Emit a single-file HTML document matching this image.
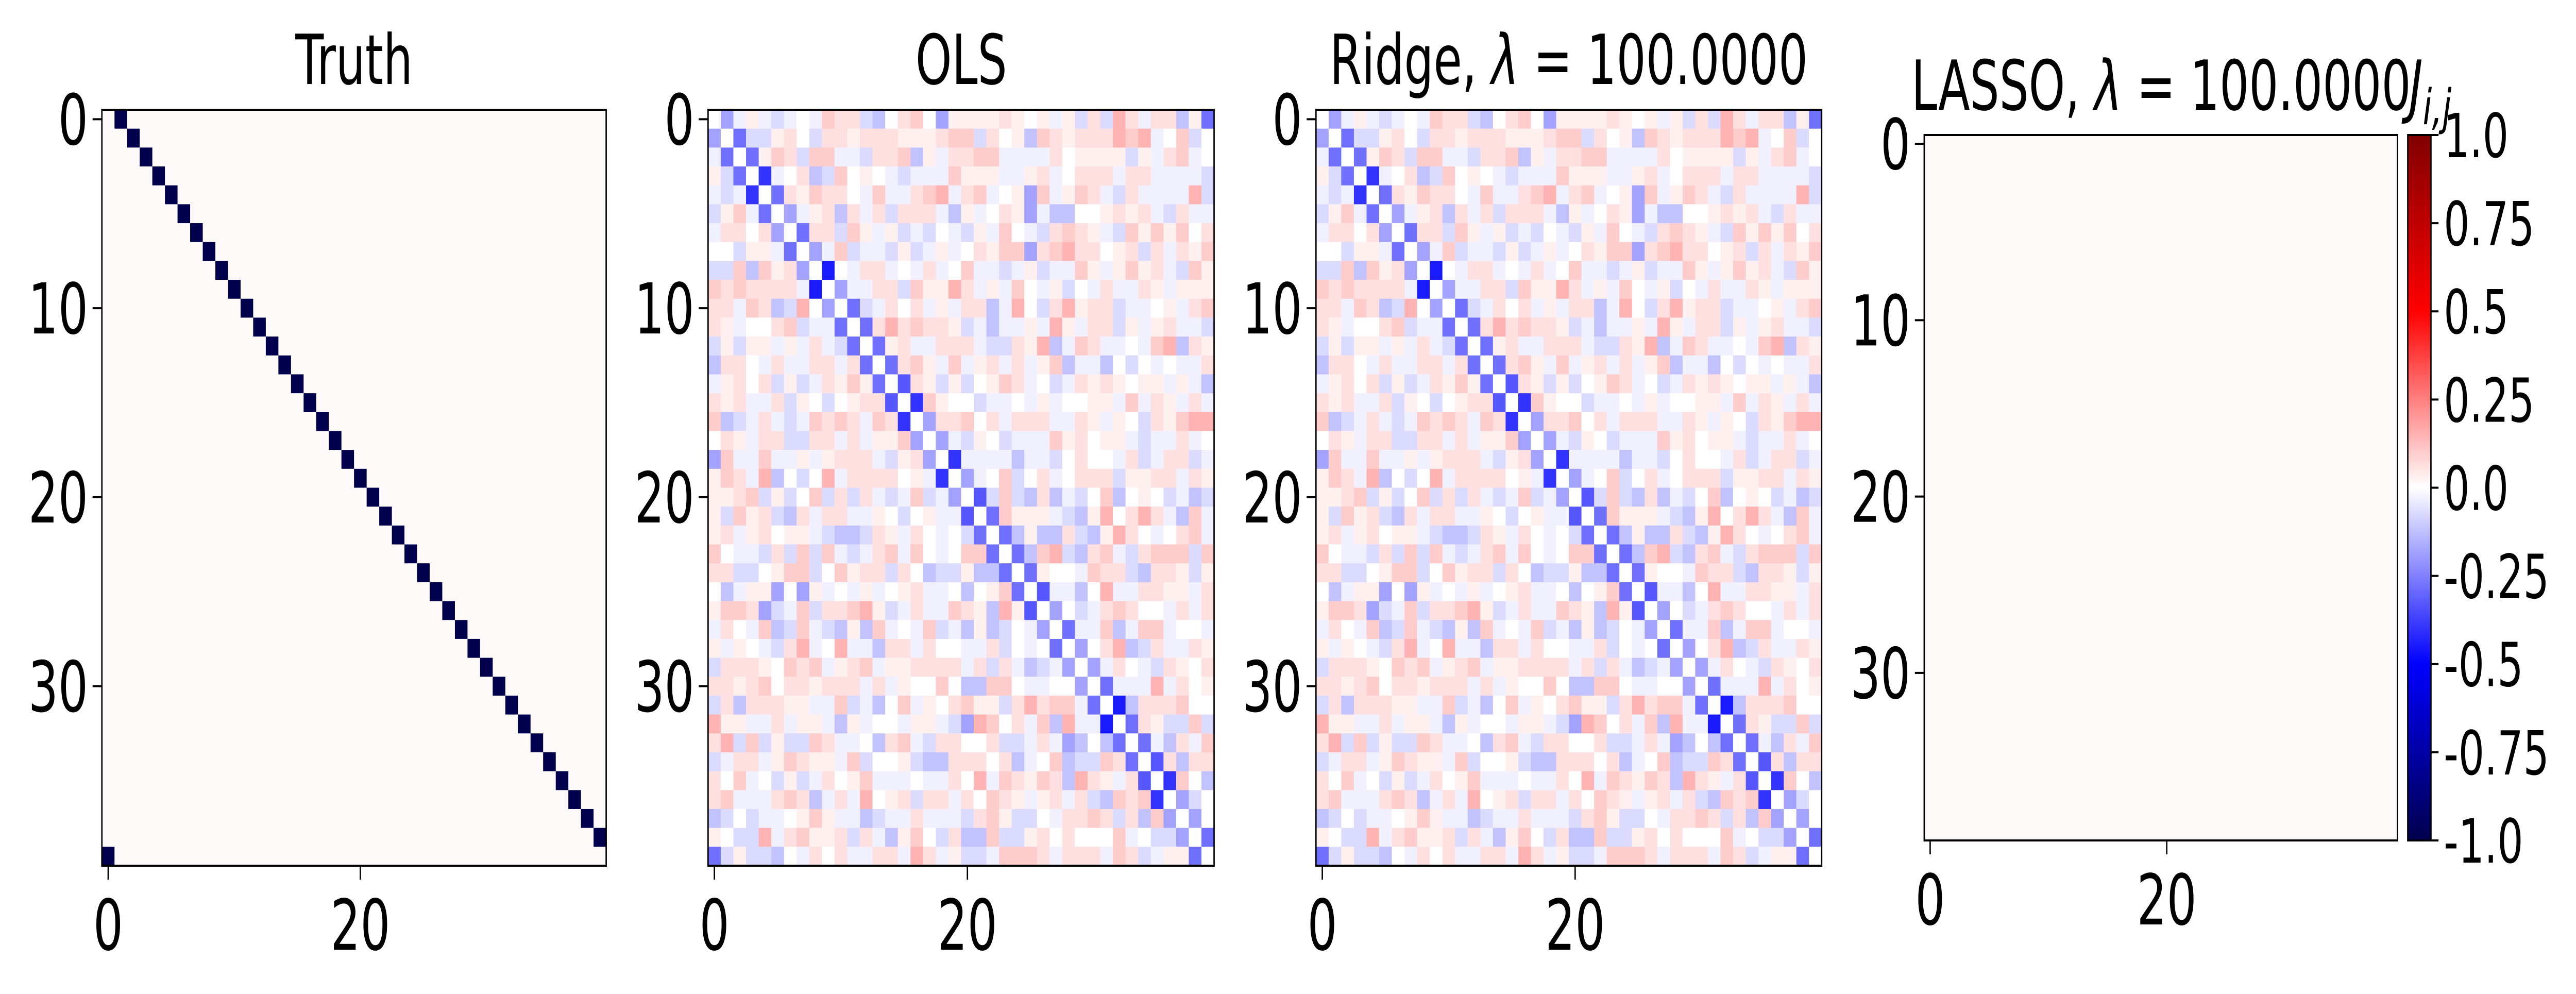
<!DOCTYPE html>
<html><head><meta charset="utf-8"><title>Coupling matrices</title>
<style>
html,body{margin:0;padding:0;background:#fff;width:100%;height:100%;overflow:hidden;}
svg{display:block;width:100vw;height:100vh;font-family:"DejaVu Sans","Liberation Sans",sans-serif;}
</style></head>
<body>
<svg id="fig" xmlns="http://www.w3.org/2000/svg" viewBox="0 0 7458 1929" preserveAspectRatio="none">
<rect x="0" y="0" width="7458" height="1929" fill="#ffffff"/>
<defs>
<linearGradient id="seis" x1="0" y1="0" x2="0" y2="1">
<stop offset="0" stop-color="#800000"/><stop offset="0.25" stop-color="#ff0000"/>
<stop offset="0.5" stop-color="#ffffff"/><stop offset="0.75" stop-color="#0000ff"/>
<stop offset="1" stop-color="#00004d"/>
</linearGradient>
</defs>
<text x="1025" y="163" font-size="134" text-anchor="middle">Truth</text>
<text x="2783" y="163" font-size="134" text-anchor="middle">OLS</text>
<text x="4542" y="163" font-size="134" text-anchor="middle">Ridge, <tspan font-style="italic">λ</tspan> = 100.0000</text>
<text x="6257" y="213" font-size="134" text-anchor="middle">LASSO, <tspan font-style="italic">λ</tspan> = 100.0000</text>
<text x="6975" y="213" font-size="134"><tspan font-style="italic">J</tspan><tspan font-style="italic" font-size="95" dy="28">i,j</tspan></text>
<g id="plots"></g>
</svg>
<script>
// ---- data ----
const INDICES = [0,1,2,3,4,5,6,7,8,9,10,11,12,13,14,15,16,17,18,19,20,21,22,23,24,25,26,27,28,29,30,31,32,33,34,35,36,37,38,39];
const TRUTH_NEG_COL = [1,2,3,4,5,6,7,8,9,10,11,12,13,14,15,16,17,18,19,20,21,22,23,24,25,26,27,28,29,30,31,32,33,34,35,36,37,38,39,0];
const TRUTH_NEG_VALUE = -1.0;
const BACKGROUND_VALUE = 0.01;
const LEVEL_CHARS = ['.','0','1','2','3','4','a','b','c','d','e','f','g','h'];
const LEVEL_VALUES = [0.01,0,0.03,0.06,0.10,0.15,-0.03,-0.07,-0.12,-0.18,-0.28,-0.33,-0.40,-0.45];
const OLS_ROWS = [
"0da1aba0a3 22bc0230d1 1112101a1b 2b42a22c1e",
"d0ebb120b2 2122211123 3b201c3212 22434a03b0",
"ae0e132b33 aab223c1a2 233aaaa201 111b1a23a0",
"1be0ga02cb 3010abaaa3 111aa12a02 22a22aaaab",
"abag0e2132 20a3aa234a 23a01d3a13 2ab2aaaa4b",
"b13ae0da12 c2a2b222ac 1a021dacc0 01212ab2aa",
"a2202d0e22 b31a1bab0a b1a30ab232 1ab3131302",
"00b11ae0da 3baab1ba1a 02133d2342 2012b2a213",
"bb3c312d0h 0a22a0a2a0 3aaba1baa3 1a1312ab31",
"3232222ah0 daa22b3114 2a1a30a1b0 a2aa21a111",
"22a32cb40d 0eba202a1a 22ca40b241 22baa01a23",
"21a0023baa e0e2423221 bacaa1a41a 22b1a12aab",
"b1b11a1a2a be0e12aa22 2abb214ca3 2aa0a34c21",
"c220a2aa22 a2e0e231a3 a12a2a13ca ac0b0a0aa2",
"a1202b1ba2 131e0f21b1 b0132a0ba2 121011a1ac",
"212aa2b10b 0122f0g310 0baa0a1a00 11a3a21a2a",
"3cba2aba32 32a32g0d22 302a222aa2 1a10b21344",
"021a22bb22 a2a113d0da b10baaa312 011abaa2a0",
"d3aa3aa1a1 222ab12d0g aaaacaab02 00a2ba22ba",
"132a4c0b04 a222201ag0 da03b02a02 22b1122a21",
"1123b1b03b 2b2aba3bad 0fb3bc2cab 03c010bacb",
"1b312bc2a2 2aa10b01aa f0e3111abc 140242ac3a",
"12a12011ab ccb21a20a0 be0ec1cc2b c1420a023a",
"30aab2b3b3 aba23a30a0 33e0ec34bc 23ab2333b3",
"22bb0133b0 3122b20cbb 1cce0e100a 322bc221b1",
"0ca11d0d1a 0a1a012aa0 c013e0faac 04aa2211a2",
"1332dba3b2 2341ba2aa3 21c41f0d0b a23200a2a2",
"a20a3cb3ab c1c3a0a3ba c1cb0ad0ea a3ca33a00a",
"1a10ab24a0 4aac22a200 aa2b0a0e0d 024cb2aa21",
"b22210323a 123a112222 a2b2acbad0 da20ab2102",
"2212302212 22a2a10030 cc330aa00d 0eaaa4a201",
"b2c22211aa 3bac03a102 311b24233a e0hc222300",
"411aa2a11a c1a00a11ab d4302a3c4a ah0e21bb3b",
"24b3b1bb32 aa0c23ab22 002bba2adc 0ce0eac2a3",
"ba22a13211 a3b001bcc2 2202ca03cb b32e0f2c22",
"203a0b1ba2 013aaa0aa2 04a32132c4 21a2f0g30c",
"23aaa232ca 2a4012b22a 20321a12a2 bc323g0db0",
"cb0baa0131 aacbaa2aaa b231bb0a22 32b2c3d0d0",
"10bb4a2311 2b2ac130b2 cc3bb12020 003a0bbd0e",
"eb1bbc0a20 2aa22a42a1 bba3332a22 2a32ba11e0"
];
const RIDGE_ROWS = [
"0da1aba0a3 22bc0230d1 1112101a1b 2b42a22c1e",
"d0ebb120b2 2122211123 3b201c3212 22434a03b0",
"ae0e132b33 aab223c1a2 233aaaa201 111b1a23a0",
"1be0ga02cb 3010abaaa3 111aa12a02 22a22aaaab",
"abag0e2132 20a3aa234a 23a01d3a13 2ab2aaaa4b",
"b13ae0da12 c2a2b222ac 1a021dacc0 01212ab2aa",
"a2202d0e22 b31a1bab0a b1a30ab232 1ab3131302",
"00b11ae0da 3baab1ba1a 02133d2342 2012b2a213",
"bb3c312d0h 0a22a0a2a0 3aaba1baa3 1a1312ab31",
"3232222ah0 daa22b3114 2a1a30a1b0 a2aa21a111",
"22a32cb40d 0eba202a1a 22ca40b241 22baa01a23",
"21a0023baa e0e2423221 bacaa1a41a 22b1a12aab",
"b1b11a1a2a be0e12aa22 2abb214ca3 2aa0a34c21",
"c220a2aa22 a2e0e231a3 a12a2a13ca ac0b0a0aa2",
"a1202b1ba2 131e0f21b1 b0132a0ba2 121011a1ac",
"212aa2b10b 0122f0g310 0baa0a1a00 11a3a21a2a",
"3cba2aba32 32a32g0d22 302a222aa2 1a10b21344",
"021a22bb22 a2a113d0da b10baaa312 011abaa2a0",
"d3aa3aa1a1 222ab12d0g aaaacaab02 00a2ba22ba",
"132a4c0b04 a222201ag0 da03b02a02 22b1122a21",
"1123b1b03b 2b2aba3bad 0fb3bc2cab 03c010bacb",
"1b312bc2a2 2aa10b01aa f0e3111abc 140242ac3a",
"12a12011ab ccb21a20a0 be0ec1cc2b c1420a023a",
"30aab2b3b3 aba23a30a0 33e0ec34bc 23ab2333b3",
"22bb0133b0 3122b20cbb 1cce0e100a 322bc221b1",
"0ca11d0d1a 0a1a012aa0 c013e0faac 04aa2211a2",
"1332dba3b2 2341ba2aa3 21c41f0d0b a23200a2a2",
"a20a3cb3ab c1c3a0a3ba c1cb0ad0ea a3ca33a00a",
"1a10ab24a0 4aac22a200 aa2b0a0e0d 024cb2aa21",
"b22210323a 123a112222 a2b2acbad0 da20ab2102",
"2212302212 22a2a10030 cc330aa00d 0eaaa4a201",
"b2c22211aa 3bac03a102 311b24233a e0hc222300",
"411aa2a11a c1a00a11ab d4302a3c4a ah0e21bb3b",
"24b3b1bb32 aa0c23ab22 002bba2adc 0ce0eac2a3",
"ba22a13211 a3b001bcc2 2202ca03cb b32e0f2c22",
"203a0b1ba2 013aaa0aa2 04a32132c4 21a2f0g30c",
"23aaa232ca 2a4012b22a 20321a12a2 bc323g0db0",
"cb0baa0131 aacbaa2aaa b231bb0a22 32b2c3d0d0",
"10bb4a2311 2b2ac130b2 cc3bb12020 003a0bbd0e",
"eb1bbc0a20 2aa22a42a1 bba3332a22 2a32ba11e0"
];
const LASSO_ROWS = Array(40).fill("........................................");
const YTICKS = [0,10,20,30];
const XTICKS = [0,20];
const CBAR_TICKS = [1.0,0.75,0.5,0.25,0.0,-0.25,-0.5,-0.75,-1.0];
const CBAR_LABELS = ["1.0","0.75","0.5","0.25","0.0","-0.25","-0.5","-0.75","-1.0"];

// ---- helpers ----
const NS = "http://www.w3.org/2000/svg";
const root = document.getElementById('plots');
function seismic(v){
  let t = (Math.max(-1,Math.min(1,v))+1)/2;
  let r,g,b;
  if(t<0.25){const f=t/0.25; r=0; g=0; b=0.3+0.7*f;}
  else if(t<0.5){const f=(t-0.25)/0.25; r=f; g=f; b=1;}
  else if(t<0.75){const f=(t-0.5)/0.25; r=1; g=1-f; b=1-f;}
  else {const f=(t-0.75)/0.25; r=1-0.5*f; g=0; b=0;}
  const h=x=>Math.round(x*255).toString(16).padStart(2,'0');
  return '#'+h(r)+h(g)+h(b);
}
function rowVal(rows,i,j){
  const s=(rows[i]||'').replace(/ /g,'').padEnd(40,'0');
  const k=LEVEL_CHARS.indexOf(s[j]);
  return k<0?0:LEVEL_VALUES[k];
}
function mk(tag,attrs){const e=document.createElementNS(NS,tag);for(const k in attrs)e.setAttribute(k,attrs[k]);return e;}

const panels=[
 {name:'truth',x:295,y:213,w:1460,h:1467,val:(i,j)=> TRUTH_NEG_COL[i]===j?TRUTH_NEG_VALUE:BACKGROUND_VALUE},
 {name:'ols',x:2050,y:213,w:1465,h:1467,val:(i,j)=>rowVal(OLS_ROWS,i,j)},
 {name:'ridge',x:3810,y:213,w:1464,h:1467,val:(i,j)=>rowVal(RIDGE_ROWS,i,j)},
 {name:'lasso',x:5571,y:262,w:1370,h:1369,val:(i,j)=>rowVal(LASSO_ROWS,i,j)}
];
const N=INDICES.length;
panels.forEach(p=>{
  const g=mk('g',{});
  
  
  root.appendChild(g);
  const cw=p.w/N, ch=p.h/N;
  const xs=j=>p.x+j*cw, ys=i=>p.y+i*ch;
  INDICES.forEach(i=>INDICES.forEach(j=>{
    const r=mk('rect',{x:xs(j).toFixed(2),y:ys(i).toFixed(2),width:(cw+0.6).toFixed(2),height:(ch+0.6).toFixed(2),fill:seismic(p.val(i,j))});
    
    
    g.appendChild(r);
  }));
  const fr=mk('rect',{x:p.x,y:p.y,width:p.w,height:p.h,fill:'none',stroke:'#000','stroke-width':4});
  
  
  g.appendChild(fr);
  YTICKS.forEach(t=>{
    const yy=ys(t)+ch/2;
    const l=mk('line',{x1:p.x-27,x2:p.x,y1:yy,y2:yy,stroke:'#000','stroke-width':4});
    
    
    g.appendChild(l);
    const tx=mk('text',{x:p.x-40,y:yy+49,'font-size':136,'text-anchor':'end'});
    tx.textContent=String(t);
    
    
    g.appendChild(tx);
  });
  XTICKS.forEach(t=>{
    const xx=xs(t)+cw/2;
    const l=mk('line',{x1:xx,x2:xx,y1:p.y+p.h,y2:p.y+p.h+27,stroke:'#000','stroke-width':4});
    
    
    g.appendChild(l);
    const tx=mk('text',{x:xx,y:p.y+p.h+163,'font-size':136,'text-anchor':'middle'});
    tx.textContent=String(t);
    
    
    g.appendChild(tx);
  });
});
// colorbar
const cb={x:6971,y:262,w:67,h:1369};
const cg=mk('g',{});


root.appendChild(cg);
const cr=mk('rect',{x:cb.x,y:cb.y,width:cb.w,height:cb.h,fill:'url(#seis)',stroke:'#000','stroke-width':4});


cg.appendChild(cr);
const cy=v=>cb.y+(1-(v+1)/2)*cb.h;
CBAR_TICKS.forEach((v,k)=>{
  const yy=cy(v);
  const l=mk('line',{x1:cb.x+cb.w,x2:cb.x+cb.w+22,y1:yy,y2:yy,stroke:'#000','stroke-width':4});
  
  
  cg.appendChild(l);
  const tx=mk('text',{x:cb.x+cb.w+37,y:yy+43,'font-size':118});
  tx.textContent=CBAR_LABELS[k];
  
  
  cg.appendChild(tx);
});
</script>
</body></html>
